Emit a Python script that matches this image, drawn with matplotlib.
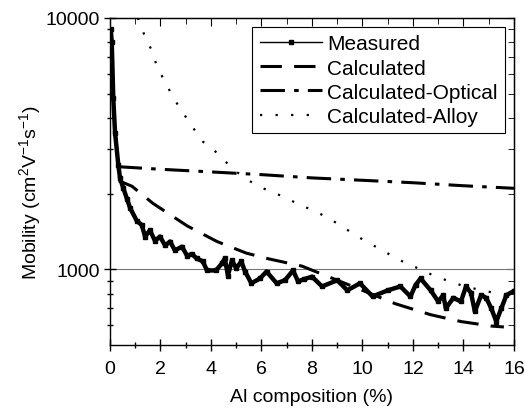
import matplotlib
matplotlib.use("Agg")
import matplotlib.pyplot as plt
from matplotlib.lines import Line2D
from matplotlib.ticker import FixedLocator, NullFormatter, MultipleLocator

plt.rcParams["font.family"] = ["Liberation Sans", "DejaVu Sans"]
plt.rcParams["mathtext.fontset"] = "custom"
plt.rcParams["mathtext.rm"] = "Liberation Sans"
plt.rcParams["mathtext.it"] = "Liberation Sans:italic"
plt.rcParams["mathtext.bf"] = "Liberation Sans:bold"

# Measured mobility
meas_x = [0.03, 0.07, 0.13, 0.2, 0.33, 0.4, 0.53, 0.67, 0.8, 1.06, 1.26, 1.39,
          1.58, 1.78, 1.98, 2.18, 2.38, 2.57, 2.85, 3.05, 3.25, 3.43, 3.68, 3.84,
          4.2, 4.43, 4.55, 4.67, 4.83, 5.0, 5.2, 5.35, 5.6, 5.94, 6.2, 6.6, 6.93,
          7.25, 7.45, 7.7, 8.0, 8.4, 9.0, 9.4, 9.9, 10.4, 11.0, 11.5, 11.9, 12.1,
          12.3, 12.7, 13.0, 13.2, 13.3, 13.6, 13.9, 14.1, 14.3, 14.45, 14.7, 14.9,
          15.1, 15.3, 15.5, 15.7, 16.0]
meas_y = [9000, 8000, 4800, 3500, 2600, 2300, 2100, 1910, 1750, 1560, 1500, 1350,
          1430, 1300, 1350, 1245, 1290, 1190, 1230, 1135, 1150, 1105, 1075, 990,
          990, 1055, 1105, 945, 1085, 1010, 1075, 980, 880, 920, 980, 880, 905,
          990, 895, 915, 935, 855, 905, 825, 880, 780, 825, 855, 780, 865,
          920, 825, 745, 790, 700, 770, 745, 855, 805, 680, 790, 770,
          700, 620, 700, 790, 820]

calc_x = [0.35, 0.87, 1.7, 3.05, 4.24, 5.4, 6.3, 7.6, 9.0, 10.0, 11.3, 12.7, 13.9, 15.1, 15.6]
calc_y = [2250, 2140, 1830, 1490, 1290, 1160, 1100, 1030, 905, 825, 730, 660, 620, 595, 590]

opt_x = [0.3, 2, 4, 6, 8, 10, 12, 14, 16]
opt_y = [2560, 2500, 2440, 2380, 2310, 2260, 2210, 2150, 2100]

alloy_x = [1.1, 1.39, 1.66, 1.82, 2.1, 2.38, 2.69, 3.05, 3.37, 3.68, 4.16, 4.55,
           4.87, 5.43, 5.86, 6.42, 7.0, 7.52, 8.04, 8.59, 9.11, 9.66, 10.2, 10.8,
           11.3, 11.8, 12.4, 12.9, 13.4, 13.9, 14.5, 15.0, 15.6, 16.0]
alloy_y = [10000, 8400, 7400, 6600, 5750, 5100, 4500, 3970, 3560, 3220, 2950, 2700,
           2500, 2280, 2140, 2030, 1920, 1800, 1720, 1610, 1500, 1380, 1280, 1190,
           1110, 1050, 990, 935, 900, 865, 835, 815, 790, 775]

Y_MINOR = [600, 700, 800, 900] + list(range(2000, 10000, 1000))

fig = plt.figure(figsize=(5.25, 4.10), dpi=100)
ax = fig.add_axes([0.2095, 0.156, 0.7695, 0.798])

ax.axhline(1000, color="#777777", lw=0.8, zorder=1)

ax.plot(meas_x, meas_y, color="k", lw=3.2, marker="s", ms=2.4, zorder=5)
ax.plot(calc_x, calc_y, color="k", lw=2.2, dashes=(7, 4), zorder=4)
ax.plot(opt_x, opt_y, color="k", lw=2.2, dashes=(8, 3, 1.5, 3), zorder=4)
ax.plot(alloy_x, alloy_y, color="k", lw=1.6, dashes=(1, 6), zorder=4)

ax.set_yscale("log")
ax.set_xlim(0, 16)
ax.set_ylim(500, 10000)
ax.xaxis.set_major_locator(MultipleLocator(2))
ax.xaxis.set_minor_locator(MultipleLocator(1))
ax.yaxis.set_major_locator(FixedLocator([1000, 10000]))
ax.yaxis.set_minor_locator(FixedLocator(Y_MINOR))
ax.yaxis.set_minor_formatter(NullFormatter())
ax.set_yticklabels(["1000", "10000"])
ax.tick_params(which="major", direction="inout", length=8, width=1, labelsize=14, colors="k")
ax.tick_params(axis="x", which="major", pad=7)
ax.tick_params(which="minor", direction="inout", length=5, width=1)

# inward ticks on top and right
top = ax.secondary_xaxis("top")
top.xaxis.set_major_locator(MultipleLocator(2))
top.xaxis.set_minor_locator(MultipleLocator(1))
top.tick_params(which="both", direction="in", labeltop=False, length=4)
top.tick_params(which="major", length=6)
right = ax.secondary_yaxis("right")
right.yaxis.set_major_locator(FixedLocator([1000, 10000]))
right.yaxis.set_minor_locator(FixedLocator(Y_MINOR))
right.tick_params(which="both", direction="in", labelright=False, length=4)
right.tick_params(which="major", length=6)
right.yaxis.set_minor_formatter(NullFormatter())
right.yaxis.set_major_formatter(NullFormatter())

for s in ax.spines.values():
    s.set_linewidth(1)

ax.set_xlabel("Al composition (%)", fontsize=14, labelpad=8)
ax.set_ylabel("Mobility (cm$^2$V$^{-1}$s$^{-1}$)", fontsize=14)
ax.yaxis.set_label_coords(-0.198, 0.47)
ax.yaxis.label.set_va("center")

handles = [
    Line2D([], [], color="k", lw=1, marker="s", ms=3),
    Line2D([], [], color="k", lw=2.2, dashes=(7, 4)),
    Line2D([], [], color="k", lw=2.2, dashes=(8, 3, 1.5, 3)),
    Line2D([], [], color="k", lw=1.6, dashes=(1, 6)),
]
labels = ["Measured", "Calculated", "Calculated-Optical", "Calculated-Alloy"]
leg = ax.legend(handles, labels, loc="upper right", bbox_to_anchor=(0.978, 0.972),
                borderaxespad=0, fontsize=15, fancybox=False, framealpha=1,
                edgecolor="k", handlelength=3.0, handletextpad=0.25,
                labelspacing=0.25, borderpad=0.35, numpoints=1)
leg.get_frame().set_linewidth(0.8)

fig.savefig("out.png", dpi=100)
